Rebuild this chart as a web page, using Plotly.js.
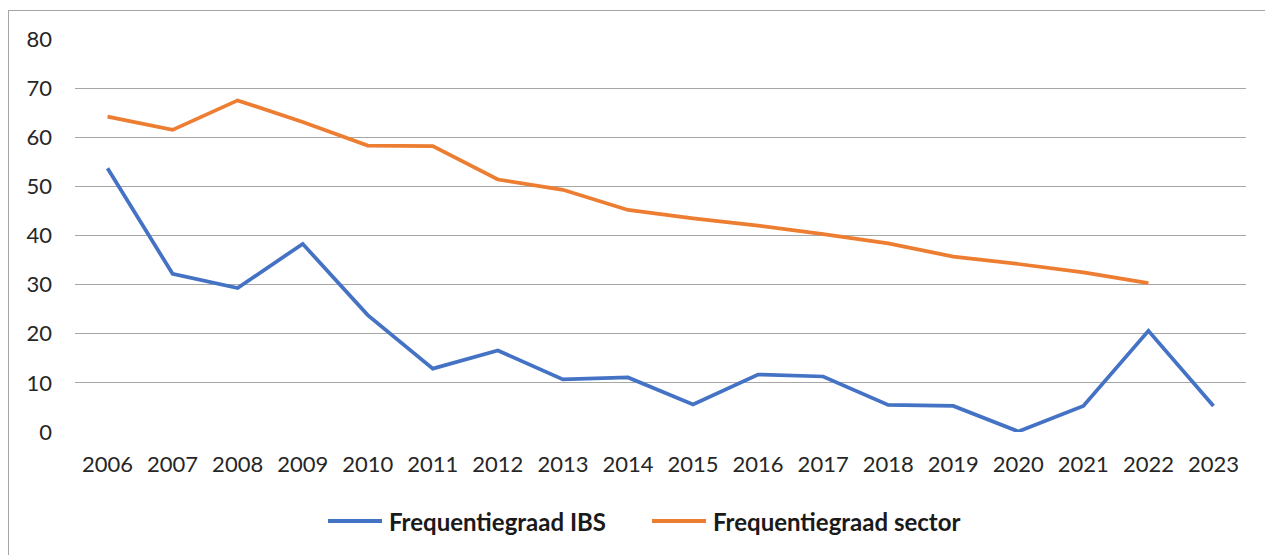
<!DOCTYPE html>
<html>
<head>
<meta charset="utf-8">
<script src="https://cdn.plot.ly/plotly-3.0.1.min.js"></script>
<style>
  html, body { margin: 0; padding: 0; background: #ffffff; }
  #chart { width: 1265px; height: 555px; position: absolute; left: 0; top: 0; }
  #frame { position: absolute; left: 8px; top: 10px; width: 1300px; height: 600px;
           border-left: 1px solid #a6a6a6; border-top: 1px solid #a6a6a6; pointer-events: none; }
</style>
</head>
<body>
<div id="chart"></div>
<div id="frame"></div>
<script>
const years = ["2006","2007","2008","2009","2010","2011","2012","2013","2014","2015","2016","2017","2018","2019","2020","2021","2022","2023"];
const ibs = [53.7, 32.2, 29.3, 38.3, 23.8, 12.9, 16.6, 10.7, 11.1, 5.6, 11.7, 11.3, 5.5, 5.3, 0.1, 5.3, 20.6, 5.3];
const sector = [64.2, 61.5, 67.5, 63.1, 58.3, 58.2, 51.4, 49.3, 45.2, 43.5, 42.0, 40.3, 38.4, 35.7, 34.2, 32.5, 30.3, null];
const yTicks = [0, 10, 20, 30, 40, 50, 60, 70, 80];
const seriesNames = ["Frequentiegraad IBS", "Frequentiegraad sector"];
const colors = ["#4472C4", "#ED7D31"];

const W = 1265, H = 555;
const M = { l: 75, r: 19, t: 39, b: 123 };
const pw = W - M.l - M.r, ph = H - M.t - M.b;
// convert page pixel to paper coords (for the hand-drawn legend)
const px = v => (v - M.l) / pw;
const py = v => (H - M.b - v) / ph;

const traces = [
  { x: years, y: ibs, name: seriesNames[0], type: "scatter", mode: "lines",
    line: { color: colors[0], width: 3.75 }, showlegend: false },
  { x: years, y: sector, name: seriesNames[1], type: "scatter", mode: "lines",
    line: { color: colors[1], width: 3.75 }, showlegend: false }
];

const legendItems = [
  { x0: 328, x1: 382, tx: 387 },
  { x0: 652, x1: 706, tx: 711 }
];
const legendY = 521;

const shapes = legendItems.map((it, i) => ({
  type: "line", xref: "paper", yref: "paper",
  x0: px(it.x0), x1: px(it.x1), y0: py(legendY), y1: py(legendY),
  line: { color: colors[i], width: 4 }
}));
const annotations = legendItems.map((it, i) => ({
  xref: "paper", yref: "paper", x: px(it.tx), y: py(legendY),
  xanchor: "left", yanchor: "middle", showarrow: false,
  text: seriesNames[i],
  font: { family: "Lato, sans-serif", size: 24, color: "#1a1a1a", weight: "bold" }
}));

const layout = {
  width: W, height: H,
  margin: M,
  paper_bgcolor: "#ffffff", plot_bgcolor: "#ffffff",
  font: { family: "Lato, 'Open Sans', sans-serif", size: 22, color: "#262626" },
  xaxis: {
    type: "category", range: [-0.5, 17.5], showgrid: false, showline: false, zeroline: false,
    ticks: "", ticklabelstandoff: 17, tickfont: { size: 22, color: "#262626" }
  },
  yaxis: {
    range: [0, 80], tickvals: yTicks, showgrid: true, gridcolor: "#a6a6a6", gridwidth: 1,
    zeroline: false, showline: false, ticks: "", ticklabelstandoff: 22,
    tickfont: { size: 22, color: "#262626" }
  },
  showlegend: false,
  shapes: shapes,
  annotations: annotations
};

Plotly.newPlot("chart", traces, layout, { displayModeBar: false, staticPlot: true });
</script>
</body>
</html>
